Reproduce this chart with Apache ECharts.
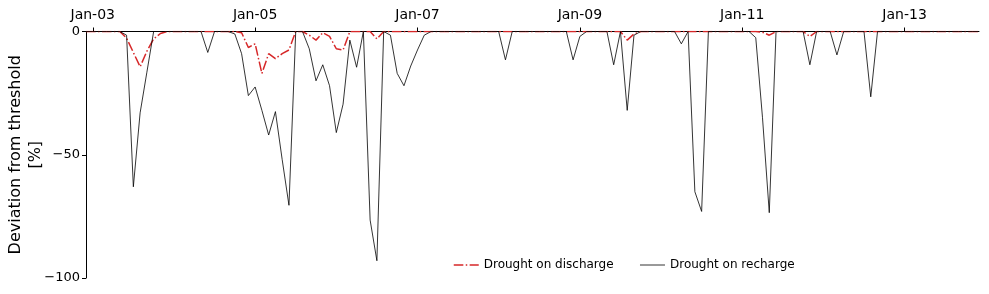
<!DOCTYPE html>
<html><head><meta charset="utf-8">
<script src="https://cdn.jsdelivr.net/npm/echarts@6/dist/echarts.min.js"></script>
<style>html,body{margin:0;padding:0;background:#fff}#c{width:989px;height:294px}</style>
</head><body><div id="c"></div>
<script>
// Monthly categories Dec-2002 .. Dec-2013
const monthNames = ['Jan','Feb','Mar','Apr','May','Jun','Jul','Aug','Sep','Oct','Nov','Dec'];
const categories = ['Dec-02'];
for (let y = 2003; y <= 2013; y++) {
  for (let m = 0; m < 12; m++) categories.push(monthNames[m] + '-' + String(y % 100).padStart(2, '0'));
}
const tickLabels = ['Jan-03','Jan-05','Jan-07','Jan-09','Jan-11','Jan-13'];
const yTicks = [0, -50, -100];

// Drought on discharge (%), by year (Jan..Dec)
const discharge2002 = [0];
const discharge2003 = [0,0,0,0,0,-2.7,-8.5,-14.3,-8,-3,-0.8,0];
const discharge2004 = [0,0,0,0,0,0,0,0,0,0,-0.5,-6.5];
const discharge2005 = [-5,-17,-9,-11,-9,-7.5,0,0,-1.5,-3.5,-0.5,-2];
const discharge2006 = [-7,-7.5,0,0,0,0,-3,0,0,0,0,0];
const discharge2007 = [0,0,0,0,0,0,0,0,0,0,0,0];
const discharge2008 = [0,0,0,0,0,0,0,0,0,0,0,0];
const discharge2009 = [0,0,0,0,0,0,0,-3.5,-1,0,0,0];
const discharge2010 = [0,0,0,0,0,0,0,0,0,0,0,0];
const discharge2011 = [0,0,0,-0.3,-1.5,0,0,0,0,0,-2,0];
const discharge2012 = [0,0,0,0,0,0,0,0,0,0,0,0];
const discharge2013 = [0,0,0,0,0,0,0,0,0,0,0,0];

// Drought on recharge (%), by year (Jan..Dec)
const recharge2002 = [0];
const recharge2003 = [0,0,0,0,0,-1.5,-63,-33,-16.5,0,0,0];
const recharge2004 = [0,0,0,0,0,-8.5,0,0,0,-1,-9,-26];
const recharge2005 = [-22.5,-32,-42,-32.5,-52,-70.5,0,0,-7,-20,-13.5,-22];
const recharge2006 = [-41,-29.5,-3.5,-14.5,0,-76.5,-93,0,-1.5,-17,-22,-14];
const recharge2007 = [-7.5,-1.5,0,0,0,0,0,0,0,0,0,0];
const recharge2008 = [0,-11.5,0,0,0,0,0,0,0,0,0,-11.5];
const recharge2009 = [-2,0,0,0,0,-13.5,0,-32,-1.5,0,0,0];
const recharge2010 = [0,0,0,-5,0,-65,-73,0,0,0,0,0];
const recharge2011 = [0,0,-2.5,-35,-73.5,0,0,0,0,0,-13.5,0];
const recharge2012 = [0,0,-9.5,0,0,0,0,-26.5,0,0,0,0];
const recharge2013 = [0,0,0,0,0,0,0,0,0,0,0,0];

const discharge = [].concat(discharge2002, discharge2003, discharge2004, discharge2005, discharge2006,
  discharge2007, discharge2008, discharge2009, discharge2010, discharge2011, discharge2012, discharge2013);
const recharge = [].concat(recharge2002, recharge2003, recharge2004, recharge2005, recharge2006,
  recharge2007, recharge2008, recharge2009, recharge2010, recharge2011, recharge2012, recharge2013);

const FONT = 'DejaVu Sans';
const RED = '#d62728';
const DASHDOT = [9.6, 2.4, 1.5, 2.4];
const chart = echarts.init(document.getElementById('c'), null, {renderer: 'canvas'});
chart.setOption({
  animation: false,
  backgroundColor: '#ffffff',
  grid: {left: 86, right: 10, top: 31.5, bottom: 16, containLabel: false, outerBoundsMode: 'none'},
  legend: {
    left: 448, top: 254, itemWidth: 25, itemHeight: 14, itemGap: 26,
    textStyle: {fontFamily: FONT, fontSize: 12, color: '#000'},
    itemStyle: {opacity: 0},
    data: [
      {name: 'Drought on discharge', lineStyle: {color: RED, width: 1.5, type: DASHDOT}},
      {name: 'Drought on recharge', lineStyle: {color: '#000', width: 0.8}}
    ]
  },
  xAxis: {
    type: 'category', data: categories, boundaryGap: false, position: 'top',
    axisLine: {onZero: false, lineStyle: {color: '#000', width: 1}},
    axisTick: {show: true, length: 4, lineStyle: {color: '#000', width: 1},
      interval: (i, v) => tickLabels.includes(v)},
    axisLabel: {interval: (i, v) => tickLabels.includes(v), margin: 9,
      fontFamily: FONT, fontSize: 14, color: '#000'},
    splitLine: {show: false}
  },
  yAxis: {
    type: 'value', min: -100, max: 0, interval: 50,
    name: 'Deviation from threshold\n[%]', nameLocation: 'middle', nameGap: 40,
    nameMoveOverlap: false,
    nameTextStyle: {fontFamily: FONT, fontSize: 16, color: '#000', lineHeight: 20},
    axisLine: {show: true, lineStyle: {color: '#000', width: 1}},
    axisTick: {show: true, length: 4, lineStyle: {color: '#000', width: 1}},
    axisLabel: {fontFamily: FONT, fontSize: 13, color: '#000', margin: 6,
      formatter: v => yTicks.includes(v) ? (v < 0 ? '\u2212' + (-v) : String(v)) : ''},
    splitLine: {show: false}
  },
  series: [
    {name: 'Drought on discharge', type: 'line', data: discharge, symbol: 'none',
      itemStyle: {color: RED},
      lineStyle: {color: RED, width: 1.5, type: DASHDOT}, z: 2},
    {name: 'Drought on recharge', type: 'line', data: recharge, symbol: 'none',
      itemStyle: {color: '#000'},
      lineStyle: {color: '#000', width: 0.8}, z: 3}
  ]
});
</script>
</body></html>
